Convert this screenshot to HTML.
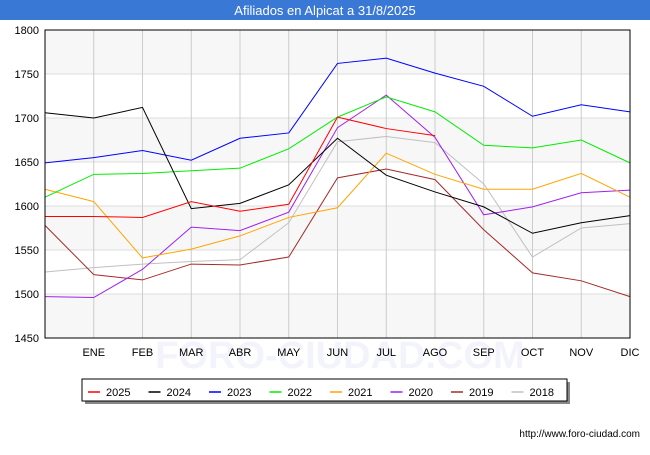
<!DOCTYPE html>
<html><head><meta charset="utf-8"><style>
body{margin:0;background:#fff;font-family:"Liberation Sans",sans-serif;}
</style></head><body>
<svg width="650" height="450" xmlns="http://www.w3.org/2000/svg" font-family="Liberation Sans, sans-serif">
<rect x="0" y="0" width="650" height="20" fill="#3a78d6"/>
<text x="325" y="15" text-anchor="middle" fill="#fff" font-size="13">Afiliados en Alpicat a 31/8/2025</text>
<g id="plot"></g>
<g id="legend"></g>
<text x="640" y="437" text-anchor="end" font-size="10" fill="#000">http://www.foro-ciudad.com</text>
</svg>
<script>
const months=["","ENE","FEB","MAR","ABR","MAY","JUN","JUL","AGO","SEP","OCT","NOV","DIC"];
const yTicks=[1450,1500,1550,1600,1650,1700,1750,1800];
const seriesNames=["2025","2024","2023","2022","2021","2020","2019","2018"];
const seriesColors=["#ff0000","#000000","#0000ff","#00ee00","#ffa500","#a020f0","#a52a2a","#c0c0c0"];
const s2025=[1588,1588,1587,1605,1594,1602,1701,1688,1680];
const s2024=[1706,1700,1712,1597,1603,1624,1677,1635,1616,1599,1569,1581,1589];
const s2023=[1649,1655,1663,1652,1677,1683,1762,1768,1751,1736,1702,1715,1707];
const s2022=[1610,1636,1637,1640,1643,1665,1701,1724,1707,1669,1666,1675,1649];
const s2021=[1619,1605,1541,1551,1566,1587,1598,1660,1636,1619,1619,1637,1610];
const s2020=[1497,1496,1528,1576,1572,1593,1689,1726,1678,1590,1599,1615,1618];
const s2019=[1578,1522,1516,1534,1533,1542,1632,1642,1630,1573,1524,1515,1497];
const s2018=[1525,1530,1534,1537,1539,1581,1673,1679,1672,1625,1542,1575,1580];
const allSeries=[s2025,s2024,s2023,s2022,s2021,s2020,s2019,s2018];
const NS="http://www.w3.org/2000/svg";
const L=45,R=630,T=30,B=338;
const xs=i=>L+i*(R-L)/12;
const ys=v=>B-(v-1450)*(B-T)/350;
const g=document.getElementById('plot');
function mk(tag,attrs,parent){const e=document.createElementNS(NS,tag);for(const k in attrs)e.setAttribute(k,attrs[k]);(parent||g).appendChild(e);return e;}
let bg=mk('rect',{x:L,y:T,width:R-L,height:B-T,fill:'#ffffff'});


for(let i=0;i<yTicks.length-1;i++){
  if(i%2===0){let b=mk('rect',{x:L,y:ys(yTicks[i+1]),width:R-L,height:ys(yTicks[i])-ys(yTicks[i+1]),fill:'#f7f7f7'});
  
  }
}
let wm=mk('text',{x:340,y:368,'text-anchor':'middle','font-size':38,fill:'#f3f4fb','font-weight':'bold'});
wm.textContent='FORO-CIUDAD.COM';


yTicks.forEach(v=>{
  let l=mk('line',{x1:L,x2:R,y1:ys(v),y2:ys(v),stroke:'#dddddd','stroke-width':1});
  
  
  let t=mk('text',{x:L-6,y:ys(v)+4,'text-anchor':'end','font-size':11,fill:'#000'});
  t.textContent=v;
  
  
});
months.forEach((m,i)=>{
  if(i===0)return;
  let l=mk('line',{x1:xs(i),x2:xs(i),y1:T,y2:B,stroke:'#cccccc','stroke-width':1});
  
  
  let t=mk('text',{x:xs(i),y:356,'text-anchor':'middle','font-size':11,fill:'#000'});
  t.textContent=m;
  
  
});
for(let s=allSeries.length-1;s>=0;s--){
  const d=allSeries[s].map((v,i)=>xs(i)+','+ys(v)).join(' ');
  let p=mk('polyline',{points:d,fill:'none',stroke:seriesColors[s],'stroke-width':1});
  
  
}
let fr=mk('rect',{x:L,y:T,width:R-L,height:B-T,fill:'none',stroke:'#000','stroke-width':1});


const lg=document.getElementById('legend');
let sh=mk('rect',{x:85,y:382,width:485,height:22,fill:'#888'},lg);


let lb=mk('rect',{x:82,y:379,width:485,height:22,fill:'#fff',stroke:'#000','stroke-width':1},lg);


seriesNames.forEach((n,i)=>{
  const x0=88+i*60.5;
  let l=mk('line',{x1:x0,x2:x0+12,y1:392,y2:392,stroke:seriesColors[i],'stroke-width':1.5},lg);
  
  
  let t=mk('text',{x:x0+18,y:396,'font-size':11,fill:'#000'},lg);
  t.textContent=n;
  
  
});
</script>
</body></html>
